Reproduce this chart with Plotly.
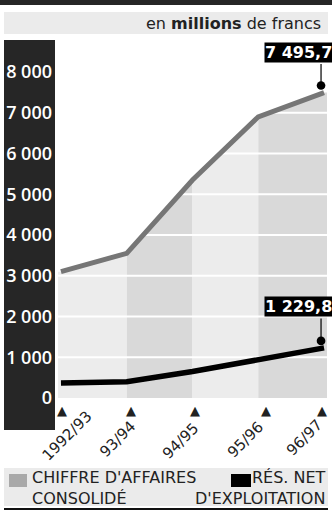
import plotly.graph_objects as go

# ---- data ----
periods = ["1992/93", "93/94", "94/95", "95/96", "96/97"]
chiffre_affaires = [3100, 3550, 5350, 6900, 7495.7]
resultat_net = [370, 400, 650, 940, 1229.8]
y_ticks = [0, 1000, 2000, 3000, 4000, 5000, 6000, 7000, 8000]
unit_text = "en <b>millions</b> de francs"
legend_ca = ["CHIFFRE D'AFFAIRES", "CONSOLIDÉ"]
legend_rn = ["RÉS. NET", "D'EXPLOITATION"]

# ---- layout geometry (pixels) ----
W, H = 332, 514
ML, MR, MT, MB = 58, 5, 40, 116
PW, PH = W - ML - MR, H - MT - MB
X_PAD = 0.045
Y_MAX = 8785

def px_x(p):
    return (p - ML) / PW

def px_y(p):
    return (H - MB - p) / PH

DARK = "#262626"
STRIP = "#ebebeb"
FILL_A = "#ececec"
FILL_B = "#d9d9d9"
CA_COL = "#767676"
FONT = "Open Sans"
WIDE = "DejaVu Sans"

def fmt(v):
    if float(v).is_integer():
        return f"{int(v):,}".replace(",", " ")
    return f"{v:,.1f}".replace(",", " ").replace(".", ",")

fig = go.Figure()

n = len(periods)
xs = list(range(n))
# alternating column fills under the CA line
for i in range(n - 1):
    fx = [xs[i], xs[i + 1]]
    fy = [chiffre_affaires[i], chiffre_affaires[i + 1]]
    if i == 0:
        fx = [xs[0] - X_PAD] + fx
        fy = [chiffre_affaires[0]] + fy
    if i == n - 2:
        fx = fx + [xs[-1] + X_PAD]
        fy = fy + [chiffre_affaires[-1]]
    fig.add_trace(go.Scatter(x=fx, y=fy, mode="none", fill="tozeroy",
                             fillcolor=FILL_A if i % 2 == 0 else FILL_B,
                             hoverinfo="skip", showlegend=False))

# white gridlines above fill, below lines
for t in y_ticks[1:]:
    fig.add_trace(go.Scatter(x=[xs[0] - X_PAD, xs[-1] + X_PAD], y=[t, t], mode="lines",
                             line=dict(color="white", width=2),
                             hoverinfo="skip", showlegend=False))

fig.add_trace(go.Scatter(x=xs, y=chiffre_affaires, mode="lines",
                         line=dict(color=CA_COL, width=5), showlegend=False, hoverinfo="skip"))
fig.add_trace(go.Scatter(x=xs, y=resultat_net, mode="lines",
                         line=dict(color="black", width=5.5), showlegend=False, hoverinfo="skip"))

shapes = []
shapes.append(dict(type="rect", xref="paper", yref="paper", x0=px_x(0), x1=px_x(W),
                   y0=px_y(5), y1=px_y(0), fillcolor=DARK, line_width=0, layer="below"))
shapes.append(dict(type="rect", xref="paper", yref="paper", x0=px_x(4), x1=px_x(328),
                   y0=px_y(34), y1=px_y(12), fillcolor=STRIP, line_width=0, layer="below"))
shapes.append(dict(type="rect", xref="paper", yref="paper", x0=px_x(4), x1=px_x(55),
                   y0=px_y(430), y1=px_y(40), fillcolor=DARK, line_width=0, layer="below"))
shapes.append(dict(type="rect", xref="paper", yref="paper", x0=px_x(4), x1=px_x(328),
                   y0=px_y(506), y1=px_y(468), fillcolor=STRIP, line_width=0, layer="below"))
shapes.append(dict(type="rect", xref="paper", yref="paper", x0=px_x(9), x1=px_x(27),
                   y0=px_y(487), y1=px_y(474), fillcolor="#a9a9a9", line_width=0))
shapes.append(dict(type="rect", xref="paper", yref="paper", x0=px_x(231), x1=px_x(251),
                   y0=px_y(487), y1=px_y(474), fillcolor="black", line_width=0))
shapes.append(dict(type="line", xref="paper", yref="paper", x0=px_x(4), x1=px_x(328),
                   y0=px_y(509), y1=px_y(509), line=dict(color="#111", width=2)))

ann = []
ann.append(dict(text=unit_text, xref="paper", yref="paper", x=px_x(323), y=px_y(23),
                xanchor="right", yanchor="middle", showarrow=False,
                font=dict(family=WIDE, size=16, color="#222")))

# x labels (rotated) and triangles
LABEL_DX = [6, -9, -12, -13, -20]
LABEL_DY = [-38, -41, -43, -42, -40]
TRI_DX = [1, 4, 2, 8, -2]
for i, p in enumerate(periods):
    ann.append(dict(text=p, x=xs[i], xref="x", y=0, yref="paper", textangle=-45,
                    xanchor="center", yanchor="middle", xshift=LABEL_DX[i], yshift=LABEL_DY[i],
                    showarrow=False, font=dict(family=WIDE, size=15, color="#222")))
    ann.append(dict(text="▲", x=xs[i], xref="x", y=0, yref="paper",
                    xanchor="center", yanchor="middle", xshift=TRI_DX[i], yshift=-12,
                    showarrow=False, font=dict(family="DejaVu Sans", size=13, color="#222")))

# end value callouts
for series, tail in ((chiffre_affaires, -30), (resultat_net, -31)):
    v = series[-1]
    ann.append(dict(text="", x=xs[-1], y=v, xref="x", yref="y", showarrow=True,
                    ax=0, ay=tail, xshift=-3, arrowhead=6, arrowsize=1.8, arrowwidth=1.2,
                    arrowcolor="black", standoff=7))
    ann.append(dict(text="<b>" + fmt(v) + "</b>", x=xs[-1], y=v, xref="x", yref="y",
                    showarrow=False, xanchor="right", yanchor="bottom", xshift=9,
                    yshift=-tail, bgcolor="black", borderpad=0,
                    font=dict(family=WIDE, size=16, color="white")))

# legend text
ann.append(dict(text="<br>".join(legend_ca), xref="paper", yref="paper", x=px_x(30), y=px_y(488),
                xanchor="left", yanchor="middle", align="left", showarrow=False,
                font=dict(family=WIDE, size=16, color="#222")))
ann.append(dict(text="<br>".join(legend_rn), xref="paper", yref="paper", x=px_x(328), y=px_y(488),
                xanchor="right", yanchor="middle", align="right", showarrow=False,
                font=dict(family=WIDE, size=16, color="#222")))

fig.update_layout(
    width=W, height=H, margin=dict(l=ML, r=MR, t=MT, b=MB, pad=0),
    paper_bgcolor="white", plot_bgcolor="white",
    shapes=shapes, annotations=ann, showlegend=False,
    xaxis=dict(range=[xs[0] - X_PAD, xs[-1] + X_PAD], showgrid=False, zeroline=False,
               showticklabels=False, showline=False, fixedrange=True),
    yaxis=dict(range=[0, Y_MAX], tickvals=y_ticks, ticktext=[fmt(t) for t in y_ticks],
               showgrid=False, zeroline=False, showline=False, ticks="",
               ticklabelstandoff=5,
               tickfont=dict(family=FONT, size=18, color="white", weight=600),
               fixedrange=True),
)

fig.write_html("out.html", config={"displayModeBar": False})
